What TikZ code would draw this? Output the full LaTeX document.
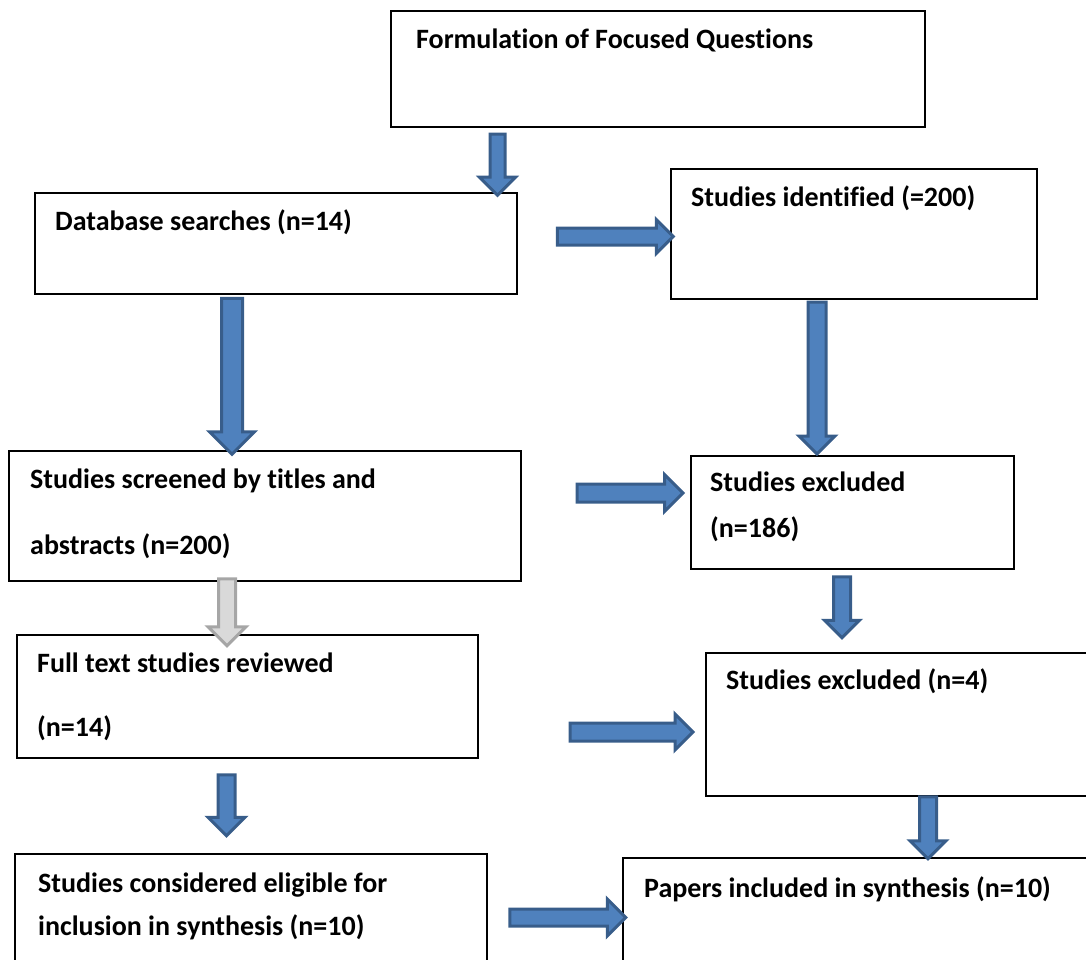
\documentclass[tikz,border=0pt]{standalone}
\usepackage{fontspec}
\setmainfont{Carlito}[Ligatures=NoCommon]
\usetikzlibrary{positioning, shapes.arrows}
\definecolor{arrowfill}{HTML}{4F81BD}
\definecolor{arrowline}{HTML}{385D8A}
\definecolor{greyfill}{HTML}{D9D9D9}
\definecolor{greyline}{HTML}{A6A6A6}
\tikzset{
  stagebox/.style={draw=black, line width=2pt, fill=white, anchor=north west, inner sep=0pt},
  stagetext/.style={anchor=base west, align=left, inner sep=0pt,
    font=\fontsize{28}{66}\selectfont\bfseries},
  flowarrow/.style={single arrow, draw=arrowline, fill=arrowfill, line width=3pt,
    inner xsep=0pt, inner ysep=7pt, single arrow head extend=9.5pt}
}
\begin{document}
\begin{tikzpicture}[x=1pt, y=-1pt]
    \useasboundingbox (0,0) rectangle (1086,960);
    \clip (0,0) rectangle (1086,960);
    % QUESTIONS
    \node[stagebox, minimum width=534pt, minimum height=116pt] (questions) at (390,10) {};
    \node[stagetext] (questions-txt) at (416,49) {Formulation of Focused Questions};
    % SEARCHES
    \node[stagebox, minimum width=482pt, minimum height=101pt] (searches) at (34,192) {};
    \node[stagetext] (searches-txt) at (55,230) {Database searches (n=14)};
    % IDENTIFIED
    \node[stagebox, minimum width=366pt, minimum height=130pt] (identified) at (670,168) {};
    \node[stagetext] (identified-txt) at (691,206) {Studies identified (=200)};
    % SCREENED (placed at last baseline)
    \node[stagebox, minimum width=512pt, minimum height=130pt] (screened) at (8,450) {};
    \node[stagetext] (screened-txt) at (30,554) {Studies screened by titles and\\abstracts (n=200)};
    % EXCLUDED (n=186)
    \node[stagebox, minimum width=323pt, minimum height=113pt] (excluded-a) at (690,455) {};
    \node[stagetext, font=\fontsize{28}{46}\selectfont\bfseries] (excluded-a-txt) at (710,537) {Studies excluded\\(n=186)};
    % FULL TEXT
    \node[stagebox, minimum width=461pt, minimum height=123pt] (fulltext) at (16,634) {};
    \node[stagetext, font=\fontsize{28}{64}\selectfont\bfseries] (fulltext-txt) at (37,736) {Full text studies reviewed\\(n=14)};
    % EXCLUDED (n=4)
    \node[stagebox, minimum width=400pt, minimum height=143pt] (excluded-b) at (705,652) {};
    \node[stagetext] (excluded-b-txt) at (726,689) {Studies excluded (n=4)};
    % ELIGIBLE
    \node[stagebox, minimum width=472pt, minimum height=130pt] (eligible) at (14,853) {};
    \node[stagetext, font=\fontsize{28}{43}\selectfont\bfseries] (eligible-txt) at (38,935) {Studies considered eligible for\\inclusion in synthesis (n=10)};
    % INCLUDED
    \node[stagebox, minimum width=490pt, minimum height=130pt] (included) at (622,857) {};
    \node[stagetext] (included-txt) at (644,897) {Papers included in synthesis (n=10)};
    % Block arrows
    \node[flowarrow, rotate=-90, minimum height=61pt, inner ysep=6pt, single arrow head extend=10.5pt] (arr-a) at (497.5,161) {};
    \node[flowarrow, minimum height=116pt, single arrow head extend=8.5pt] (arr-b) at (611,236.5) {};
    \node[flowarrow, rotate=-90, minimum height=156pt, inner ysep=9pt, single arrow head extend=12pt] (arr-c) at (232,371) {};
    \node[flowarrow, rotate=-90, minimum height=152pt, inner ysep=7.5pt, single arrow head extend=9pt] (arr-d) at (817,373.5) {};
    \node[flowarrow, minimum height=106pt, inner ysep=7.5pt] (arr-e) at (625.5,493) {};
    \node[flowarrow, draw=greyline, fill=greyfill, rotate=-90, minimum height=67pt, single arrow head extend=10.5pt] (arr-f) at (227,608) {};
    \node[flowarrow, rotate=-90, minimum height=61pt, single arrow head extend=9pt] (arr-g) at (842,603) {};
    \node[flowarrow, minimum height=123pt, inner ysep=7.5pt, single arrow head extend=9pt] (arr-h) at (627,732) {};
    \node[flowarrow, rotate=-90, minimum height=62pt] (arr-i) at (928,823.5) {};
    \node[flowarrow, rotate=-90, minimum height=61pt, single arrow head extend=10pt] (arr-j) at (226.5,801) {};
    \node[flowarrow, minimum height=116pt, single arrow head extend=10pt] (arr-k) at (563.5,917.5) {};
\end{tikzpicture}
\end{document}
